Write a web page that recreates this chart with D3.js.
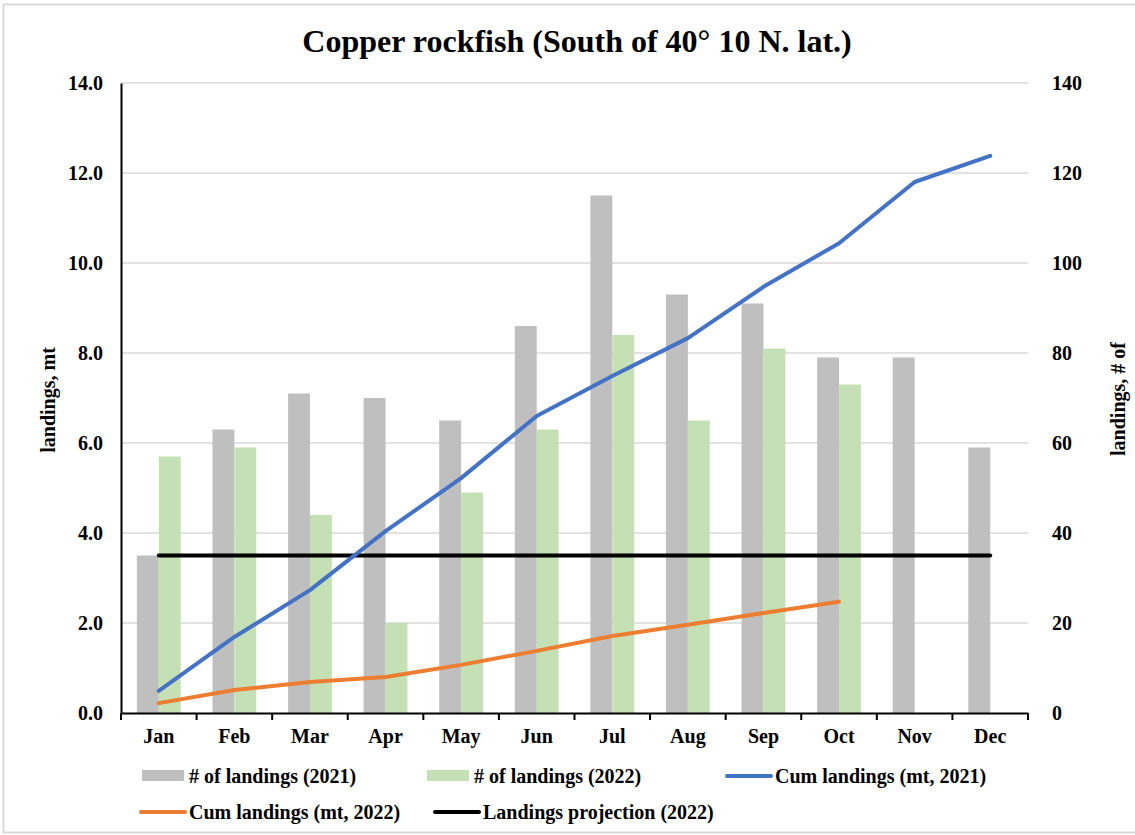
<!DOCTYPE html>
<html>
<head>
<meta charset="utf-8">
<script src="https://cdn.jsdelivr.net/npm/d3@7"></script>
<style>
  body { margin: 0; background: #fff; }
  svg { display: block; font-family: 'Liberation Serif', 'Times New Roman', serif; font-weight: bold; }
</style>
</head>
<body>
<div id="chart"></div>
<script>
const months = ['Jan', 'Feb', 'Mar', 'Apr', 'May', 'Jun', 'Jul', 'Aug', 'Sep', 'Oct', 'Nov', 'Dec']
const landings2021 = [35, 63, 71, 70, 65, 86, 115, 93, 91, 79, 79, 59]
const landings2022 = [57, 59, 44, 20, 49, 63, 84, 65, 81, 73]
const cum2021 = [0.49, 1.69, 2.73, 4.04, 5.22, 6.6, 7.49, 8.33, 9.47, 10.44, 11.8, 12.38]
const cum2022 = [0.22, 0.51, 0.69, 0.8, 1.07, 1.38, 1.71, 1.96, 2.22, 2.47]
const projection = [3.5, 3.5, 3.5, 3.5, 3.5, 3.5, 3.5, 3.5, 3.5, 3.5, 3.5, 3.5]
const leftTicks = [0, 2, 4, 6, 8, 10, 12, 14]
const rightTicks = [0, 20, 40, 60, 80, 100, 120, 140]

const width = 1135
const height = 835
const margin = { top: 83, right: 107, bottom: 122, left: 121 }
const innerW = width - margin.left - margin.right
const innerH = height - margin.top - margin.bottom
const tickFont = 20

const svg = d3.select('#chart').append('svg')
  .attr('width', width)
  .attr('height', height)

// outer frame
svg.append('rect')
  .attr('x', 3.5).attr('y', 4.5)
  .attr('width', width + 20).attr('height', height - 7)
  .attr('fill', 'none')
  .attr('stroke', '#d9d9d9')
  .attr('stroke-width', 2)

svg.append('text')
  .attr('x', 577).attr('y', 52)
  .attr('text-anchor', 'middle')
  .attr('font-size', 32)
  .text('Copper rockfish (South of 40\u00b0 10 N. lat.)')

const g = svg.append('g')
  .attr('transform', 'translate(' + margin.left + ',' + margin.top + ')')

const x = d3.scaleBand().domain(months).range([0, innerW])
const yL = d3.scaleLinear().domain([0, 14]).range([innerH, 0])
const yR = d3.scaleLinear().domain([0, 140]).range([innerH, 0])

// gridlines
g.append('g')
  .selectAll('line')
  .data(leftTicks.slice(1))
  .enter()
  .append('line')
  .attr('x1', 0).attr('x2', innerW)
  .attr('y1', d => yL(d)).attr('y2', d => yL(d))
  .attr('stroke', '#d9d9d9')
  .attr('stroke-width', 1.5)

// bars
const barW = x.bandwidth() * 0.29
function drawBars (data, color, offset) {
  g.append('g')
    .selectAll('rect')
    .data(data)
    .enter()
    .append('rect')
    .attr('x', (d, i) => x(months[i]) + x.bandwidth() / 2 + offset)
    .attr('y', d => yR(d))
    .attr('width', barW)
    .attr('height', d => innerH - yR(d))
    .attr('fill', color)
}
drawBars(landings2021, '#bfbfbf', -barW)
drawBars(landings2022, '#c5e0b4', 0)

// lines
function drawLine (data, color) {
  const line = d3.line()
    .x((d, i) => x(months[i]) + x.bandwidth() / 2)
    .y(d => yL(d))
  g.append('path')
    .datum(data)
    .attr('d', line)
    .attr('fill', 'none')
    .attr('stroke', color)
    .attr('stroke-width', 4)
    .attr('stroke-linecap', 'round')
    .attr('stroke-linejoin', 'round')
}
drawLine(projection, '#000000')
drawLine(cum2021, '#4472c4')
drawLine(cum2022, '#ed7d31')

function styleText (sel) {
  sel.selectAll('text').attr('font-size', tickFont).attr('fill', '#000')
    .attr('font-family', "'Liberation Serif', serif").attr('font-weight', 'bold')
}

// left axis
const leftAxis = g.append('g')
  .call(d3.axisLeft(yL).tickValues(leftTicks).tickFormat(d3.format('.1f')).tickSize(0).tickPadding(18))
leftAxis.select('.domain').attr('stroke', '#000').attr('stroke-width', 2)
styleText(leftAxis)

// right axis
const rightAxis = g.append('g')
  .attr('transform', 'translate(' + innerW + ',0)')
  .call(d3.axisRight(yR).tickValues(rightTicks).tickSize(0).tickPadding(24))
rightAxis.select('.domain').remove()
styleText(rightAxis)

// x axis
const xAxis = g.append('g')
  .attr('transform', 'translate(0,' + innerH + ')')
  .call(d3.axisBottom(x).tickSize(0).tickPadding(16))
xAxis.select('.domain').attr('stroke', '#000').attr('stroke-width', 2)
styleText(xAxis)
xAxis.append('g')
  .selectAll('line')
  .data(d3.range(months.length + 1))
  .enter()
  .append('line')
  .attr('x1', i => i * x.step()).attr('x2', i => i * x.step())
  .attr('y1', 0).attr('y2', 7)
  .attr('stroke', '#000')
  .attr('stroke-width', 2)

// axis titles
svg.append('text')
  .attr('transform', 'translate(55,400) rotate(-90)')
  .attr('text-anchor', 'middle')
  .attr('font-size', 20)
  .text('landings, mt')
svg.append('text')
  .attr('transform', 'translate(1125,399) rotate(-90)')
  .attr('text-anchor', 'middle')
  .attr('font-size', 20)
  .text('landings, # of')

// legend
const legend = [
  { label: '# of landings (2021)', color: '#bfbfbf', type: 'rect', x: 142, y: 776 },
  { label: '# of landings (2022)', color: '#c5e0b4', type: 'rect', x: 427, y: 776 },
  { label: 'Cum landings (mt, 2021)', color: '#4472c4', type: 'line', x: 726, y: 776 },
  { label: 'Cum landings (mt, 2022)', color: '#ed7d31', type: 'line', x: 140, y: 812 },
  { label: 'Landings projection (2022)', color: '#000000', type: 'line', x: 434, y: 812 }
]
const items = svg.append('g').selectAll('g')
  .data(legend)
  .enter()
  .append('g')
  .attr('transform', d => 'translate(' + d.x + ',' + d.y + ')')
items.filter(d => d.type === 'rect').append('rect')
  .attr('x', 0).attr('y', -6).attr('width', 42).attr('height', 11)
  .attr('fill', d => d.color)
items.filter(d => d.type === 'line').append('line')
  .attr('x1', 1).attr('x2', 45).attr('y1', 0).attr('y2', 0)
  .attr('stroke', d => d.color)
  .attr('stroke-width', 4)
  .attr('stroke-linecap', 'round')
items.append('text')
  .attr('x', d => d.type === 'rect' ? 47 : 49)
  .attr('y', 7)
  .attr('font-size', 20)
  .text(d => d.label)
</script>
</body>
</html>
